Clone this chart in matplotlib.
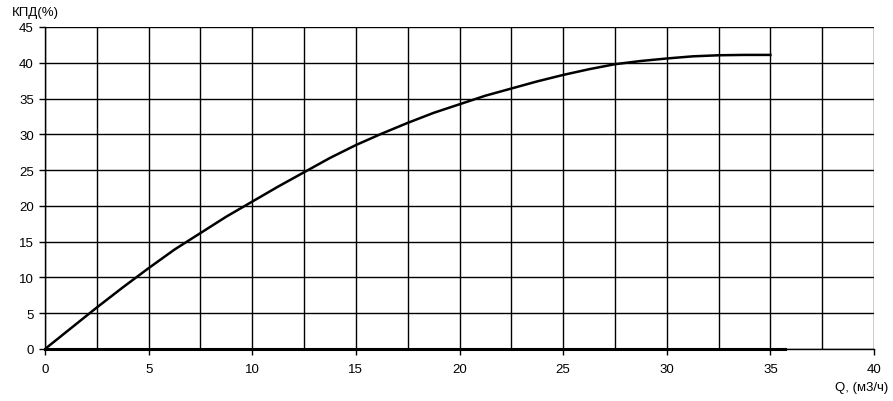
import matplotlib
matplotlib.use("Agg")
import matplotlib.pyplot as plt

# КПД curve (every 1.25 m3/h)
q = [0, 1.25, 2.5, 3.75, 5, 6.25, 7.5, 8.75, 10, 11.25, 12.5, 13.75, 15, 16.25,
     17.5, 18.75, 20, 21.25, 22.5, 23.75, 25, 26.25, 27.5, 28.75, 30, 31.25,
     32.5, 33.75, 35]
eff = [0, 2.9, 5.8, 8.6, 11.3, 13.9, 16.2, 18.5, 20.6, 22.7, 24.7, 26.7, 28.5, 30.1,
       31.6, 33.0, 34.2, 35.4, 36.4, 37.4, 38.3, 39.1, 39.8, 40.25, 40.6, 40.9,
       41.05, 41.1, 41.1]

# flat zero series along the bottom
q_zero = [0, 35.7]
eff_zero = [0, 0]

xticks = [0, 5, 10, 15, 20, 25, 30, 35, 40]
yticks = [0, 5, 10, 15, 20, 25, 30, 35, 40, 45]

plt.rcParams['font.family'] = ['Liberation Sans', 'DejaVu Sans']

fig = plt.figure(figsize=(8.93, 4.02), dpi=100)
ax = fig.add_axes([45 / 893, 52 / 402, 829 / 893, 322 / 402])

ax.plot(q, eff, color='black', lw=1.8)
ax.plot(q_zero, eff_zero, color='black', lw=2.2, clip_on=False, zorder=3)

ax.set_xlim(0, 40)
ax.set_ylim(0, 45)
ax.set_xticks(xticks)
ax.set_yticks(yticks)
ax.set_xticks([x + 2.5 for x in xticks[:-1]], minor=True)
ax.grid(True, which='both', color='black', lw=1.0)
ax.tick_params(which='minor', length=0)
ax.tick_params(which='major', length=4, width=1, labelsize=9.5, direction='out')
ax.tick_params(axis='x', pad=6)
ax.tick_params(axis='y', pad=4)

for s in ['top', 'right']:
    ax.spines[s].set_visible(False)
for s in ['left', 'bottom']:
    ax.spines[s].set_linewidth(1.0)

fig.text(12 / 893, 1 - 13 / 402, 'КПД(%)', fontsize=9.5, va='center', ha='left')
fig.text(888 / 893, 1 - 388 / 402, 'Q, (м3/ч)', fontsize=9.5, va='center', ha='right')

fig.savefig('out.png', dpi=100)
